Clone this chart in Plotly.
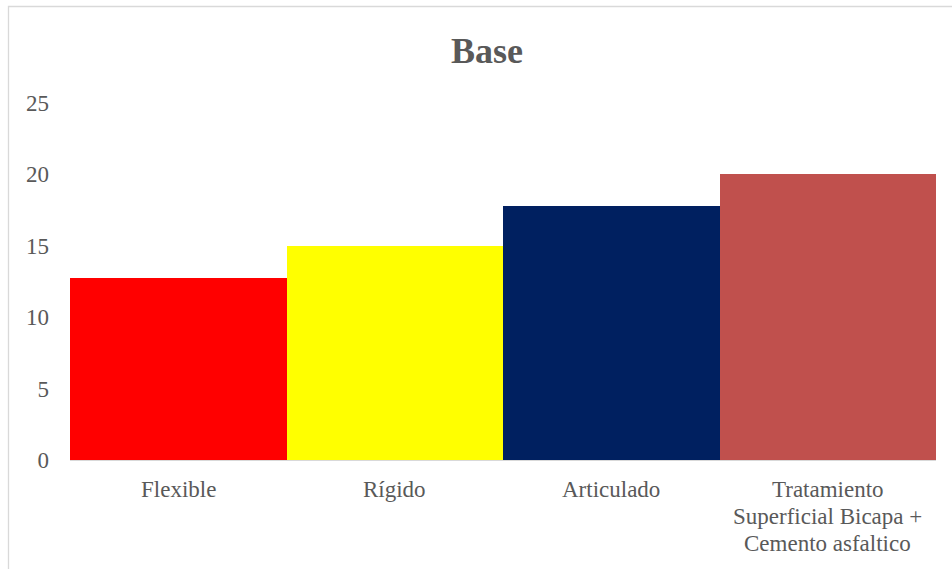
import plotly.graph_objects as go

categories = ["Flexible", "Rígido", "Articulado",
              "Tratamiento Superficial Bicapa + Cemento asfaltico"]
category_lines = [["Flexible"], ["Rígido"], ["Articulado"],
                  ["Tratamiento", "Superficial Bicapa +", "Cemento asfaltico"]]
values = [12.75, 15, 17.8, 20]
bar_colors = ["#FF0000", "#FFFF00", "#002060", "#C0504D"]
y_ticks = [0, 5, 10, 15, 20, 25]

W, H = 952, 569
ML, MR, MT, MB = 70, 16, 103, 109

fig = go.Figure(go.Bar(
    x=categories,
    y=values,
    marker=dict(color=bar_colors, line=dict(width=0)),
    hoverinfo="x+y",
))

font_family = "Liberation Serif, Times New Roman, serif"
text_color = "#595959"

pw, ph = W - ML - MR, H - MT - MB
def px_x(x):
    return (x - ML) / pw
def px_y(y):
    return (H - MB - y) / ph

# outer chart frame
fig.add_shape(type="rect", xref="paper", yref="paper",
              x0=px_x(8.5), x1=px_x(W + 20), y0=px_y(H + 20), y1=px_y(6.5),
              line=dict(color="#D9D9D9", width=1.3), fillcolor="rgba(0,0,0,0)",
              layer="below")

# category labels, one line at a time for tighter line spacing
for cat, lines in zip(categories, category_lines):
    for i, line in enumerate(lines):
        fig.add_annotation(x=cat, y=0, xref="x", yref="y", text=line,
                           showarrow=False, xanchor="center", yanchor="middle",
                           yshift=-(29 + 27 * i),
                           font=dict(family=font_family, size=23, color=text_color))

fig.update_layout(
    width=W, height=H,
    margin=dict(l=ML, r=MR, t=MT, b=MB),
    paper_bgcolor="white", plot_bgcolor="white",
    bargap=0,
    showlegend=False,
    title=dict(text="<b>Base</b>", x=px_x(487), xanchor="center", y=1 - 50 / H, yanchor="middle",
               xref="paper",
               font=dict(family=font_family, size=36, color=text_color)),
    font=dict(family=font_family, color=text_color),
    xaxis=dict(showgrid=False, showline=True, linecolor="#D9D9D9", linewidth=1.3,
               ticks="", showticklabels=False, zeroline=False),
    yaxis=dict(range=[0, 25], tickvals=y_ticks, showgrid=False, showline=False,
               zeroline=False, ticks="", tickfont=dict(size=23, color=text_color),
               ticklabelstandoff=20),
)

fig.write_html("out.html")
